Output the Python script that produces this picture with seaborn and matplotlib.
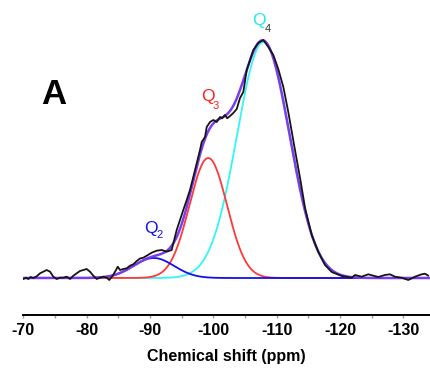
import numpy as np
import pandas as pd
import matplotlib
matplotlib.use("Agg")
import matplotlib.pyplot as plt
from matplotlib.ticker import MultipleLocator
import seaborn as sns

# ---------------- data ----------------
# experimental spectrum: chemical shift (ppm) and intensity (arb. units)
exp_ppm = [-70.0, -70.43, -70.79, -71.17, -71.58, -72.12, -72.64, -73.16, -73.69, -74.22,
           -74.74, -75.27, -75.80, -76.32, -76.85, -77.38, -77.90, -78.43, -78.95, -79.47,
           -80.01, -80.53, -81.05, -81.59, -82.11, -82.63, -83.17, -83.58, -84.12, -84.64,
           -84.91, -85.27, -85.79, -86.33, -86.85, -87.37, -87.91, -88.43, -88.95, -89.49,
           -90.27, -91.06, -91.85, -92.64, -93.43, -93.69, -94.22, -94.74, -95.26, -95.80,
           -96.32, -96.84, -97.38, -97.90, -98.17, -98.69, -98.96, -99.48, -100.0, -100.54,
           -101.06, -101.40, -101.85, -102.20, -102.64, -103.16, -103.70, -104.22, -104.74, -105.28,
           -106.32, -107.11, -107.90, -108.69, -109.48, -110.26, -111.06, -111.84, -112.90, -113.70,
           -114.49, -115.54, -116.58, -117.64, -118.70, -120.28, -121.86, -122.38, -123.43, -124.48,
           -125.27, -126.06, -127.11, -127.90, -128.69, -129.75, -130.79, -131.85, -132.91, -133.43,
           -133.95]
exp_int = [-1, 0.3, -1, 1, 0, 1.7, 4.7, 6.3, 8, 6.3,
           1.3, -1, 0.3, 0.3, 1.3, -1, 2.3, 4.7, 7, 8,
           9, 6.3, 2.3, -1, 0.3, 1.3, 0.3, -2, 2.3, 8,
           11.3, 8, 9, 9.7, 12.3, 13.7, 17, 19.5, 20.3, 22.3,
           25.3, 27.3, 28, 26.3, 28, 34.7, 48, 58, 68, 78,
           88, 101, 114.7, 128, 136, 141, 151, 156, 158, 156,
           161, 159.7, 163, 159.7, 162, 165, 169, 180, 186, 208,
           228, 235, 238, 231, 223, 209, 191, 166, 128, 100,
           70, 43, 26, 13, 6, 2, 0.3, 3, 1.3, 3.7,
           2.3, 1, 3, 3.7, 1.3, 0.3, -2, 1.3, 3.7, 4.3,
           2.3]

# fitted Gaussian components: Q2, Q3, Q4
comp_names = ["Q2", "Q3", "Q4"]
comp_center = [-90.6, -99.2, -107.9]   # ppm
comp_sigma = [3.2, 2.97, 4.15]         # ppm
comp_amp = [20, 120, 236]              # arb. units
comp_colors = ["#1010ee", "#ff3838", "#33f5f5"]

x_ticks = [-70, -80, -90, -100, -110, -120, -130]

# ---------------- build tables ----------------
grid = np.linspace(-69.95, -134.2, 700)
comps = {}
for n, c, s, a in zip(comp_names, comp_center, comp_sigma, comp_amp):
    comps[n] = a * np.exp(-(grid - c) ** 2 / (2 * s ** 2))
fit_total = comps["Q2"] + comps["Q3"] + comps["Q4"]

df_exp = pd.DataFrame({"ppm": exp_ppm, "I": exp_int})
df_fit = pd.DataFrame({"ppm": grid, "I": fit_total})

# ---------------- plot ----------------
sns.set_theme(style="white")
plt.rcParams["font.family"] = ["Liberation Sans", "DejaVu Sans"]
plt.rcParams["text.color"] = "black"
plt.rcParams["xtick.color"] = "black"
plt.rcParams["axes.labelcolor"] = "black"

fig = plt.figure(figsize=(4.30, 3.73), dpi=100)
ax = fig.add_axes([23 / 430, (373 - 315) / 373, 1 - 23 / 430, 295 / 373])

# components (cyan bottom, then red, then blue)
for n, col in [("Q4", comp_colors[2]), ("Q3", comp_colors[1]), ("Q2", comp_colors[0])]:
    sns.lineplot(x=grid, y=comps[n], ax=ax, color=col, lw=1.3, sort=False)
sns.lineplot(data=df_fit, x="ppm", y="I", ax=ax, color="#7b3cf0", lw=1.8, sort=False)
sns.lineplot(data=df_exp, x="ppm", y="I", ax=ax, color="#151515", lw=1.3, sort=False)

ax.set_xlim(-69.95, -134.22)
ax.set_ylim(-37, 258)

for sp in ["top", "right", "left"]:
    ax.spines[sp].set_visible(False)
ax.spines["bottom"].set_color("black")
ax.spines["bottom"].set_linewidth(1.4)
ax.set_yticks([])
ax.set_ylabel("")
ax.set_xticks(x_ticks)
ax.set_xticklabels([str(t) for t in x_ticks], fontsize=11.5, fontweight="bold", color="black")
ax.xaxis.set_minor_locator(MultipleLocator(5))
ax.tick_params(axis="x", which="both", direction="out", length=2.5, width=1,
               color="#999999", labelcolor="black", pad=3, bottom=True)
ax.set_xlabel("Chemical shift (ppm)", fontsize=11.5, fontweight="bold", labelpad=8, color="black")

# annotations
ax.text(-74.77, 183.5, "A", fontsize=25, fontweight="bold", color="black", ha="center", va="center")
ax.text(-107.2, 257.3, "Q", fontsize=12.5, color="#22e8e8", ha="center", va="center", clip_on=False)
ax.text(-108.64, 249, "4", fontsize=8, color="#333333", ha="center", va="center", clip_on=False)
ax.text(-99.09, 182, "Q", fontsize=12.5, color="#ff2020", ha="center", va="center")
ax.text(-100.43, 172, "3", fontsize=8, color="#ff2020", ha="center", va="center")
ax.text(-90.13, 49, "Q", fontsize=12.5, color="#1010ee", ha="center", va="center")
ax.text(-91.58, 43, "2", fontsize=8, color="#1010ee", ha="center", va="center")

fig.savefig("out.png", dpi=100)
